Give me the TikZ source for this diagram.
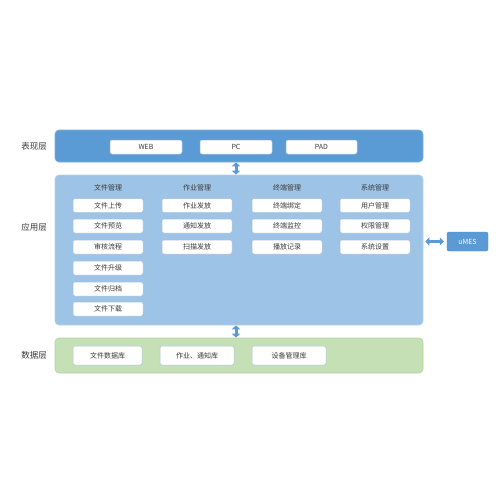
\documentclass[tikz,border=0pt]{standalone}
\usepackage{fontspec}
\setmainfont{Noto Sans CJK SC}
\usetikzlibrary{arrows.meta}
\definecolor{pblue}{HTML}{5B9BD5}
\definecolor{ablue}{HTML}{9DC3E6}
\definecolor{aborder}{HTML}{B7D2EC}
\definecolor{dgreen}{HTML}{C5E0B4}
\definecolor{dborder}{HTML}{B0D3A0}
\definecolor{bborder}{HTML}{A9C2DE}
\definecolor{txt}{HTML}{3A3A3A}
\tikzset{
  layerP/.style={draw=pblue!80!white, fill=pblue, rounded corners=4pt, line width=0.6pt},
  layerA/.style={draw=aborder, fill=ablue, rounded corners=4pt, line width=0.6pt},
  layerD/.style={draw=dborder, fill=dgreen, rounded corners=4pt, line width=0.6pt},
  itembox/.style={draw=bborder, fill=white, rounded corners=2pt, line width=0.5pt,
    minimum width=70pt, minimum height=14pt, inner sep=0pt, font=\fontsize{7}{8}\selectfont, text=txt},
  hdr/.style={font=\fontsize{7}{8}\selectfont, text=txt, inner sep=0pt},
  lbl/.style={font=\fontsize{8.5}{9}\selectfont, text=txt, inner sep=0pt},
  dblarrow/.style={{Triangle[length=4pt,width=8pt]}-{Triangle[length=4pt,width=8pt]}, line width=3pt, draw=pblue},
}
\begin{document}
\begin{tikzpicture}[x=1pt,y=-1pt]
\useasboundingbox (0,0) rectangle (500,500);
% layers
\node[layerP, minimum width=368pt, minimum height=32pt, inner sep=0pt] (pres) at (239,146) {};
\node[layerA, minimum width=368pt, minimum height=150pt, inner sep=0pt] (app) at (239,250) {};
\node[layerD, minimum width=368pt, minimum height=35pt, inner sep=0pt] (data) at (239,355.5) {};
% labels
\node[lbl] (l1) at (34,146) {表现层};
\node[lbl] (l2) at (34,227) {应用层};
\node[lbl] (l3) at (34,355) {数据层};
% presentation items
\node[itembox, minimum width=72pt] (web) at (146,147) {WEB};
\node[itembox, minimum width=72pt] (pc) at (236,147) {PC};
\node[itembox, minimum width=71pt] (pad) at (321.5,147) {PAD};
% headers
\node[hdr] (h1) at (108,188) {文件管理};
\node[hdr] (h2) at (197,188) {作业管理};
\node[hdr] (h3) at (287,188) {终端管理};
\node[hdr] (h4) at (375,188) {系统管理};
% column 1
\node[itembox] (a1) at (108,205.5) {文件上传};
\node[itembox] (a2) at (108,226) {文件预览};
\node[itembox] (a3) at (108,247) {审核流程};
\node[itembox] (a4) at (108,268) {文件升级};
\node[itembox] (a5) at (108,289) {文件归档};
\node[itembox] (a6) at (108,309) {文件下载};
% column 2
\node[itembox] (b1) at (197,205.5) {作业发放};
\node[itembox] (b2) at (197,226) {通知发放};
\node[itembox] (b3) at (197,247) {扫描发放};
% column 3
\node[itembox] (c1) at (287,205.5) {终端绑定};
\node[itembox] (c2) at (287,226) {终端监控};
\node[itembox] (c3) at (287,247) {播放记录};
% column 4
\node[itembox] (d1) at (375,205.5) {用户管理};
\node[itembox] (d2) at (375,226) {权限管理};
\node[itembox] (d3) at (375,247) {系统设置};
% data items
\node[itembox, minimum width=69pt, minimum height=19pt] (e1) at (107.5,355.5) {文件数据库};
\node[itembox, minimum width=74pt, minimum height=19pt] (e2) at (197,355.5) {作业、通知库};
\node[itembox, minimum width=74pt, minimum height=19pt] (e3) at (289,355.5) {设备管理库};
% uMES
\node[draw=pblue!85!black, fill=pblue, rounded corners=2pt, minimum width=41pt, minimum height=19pt, inner sep=0pt,
  text=white, font=\fontsize{7}{8}\selectfont] (umes) at (467.5,241.5) {uMES};
% arrows
\draw[dblarrow] (pres.south -| 236,0) -- (app.north -| 236,0);
\draw[dblarrow] (app.south -| 236,0) -- (data.north -| 236,0);
\coordinate (uL) at (app.east |- umes.west);
\draw[dblarrow] ([xshift=2pt]uL) -- ([xshift=-3pt]umes.west);
\end{tikzpicture}
\end{document}
